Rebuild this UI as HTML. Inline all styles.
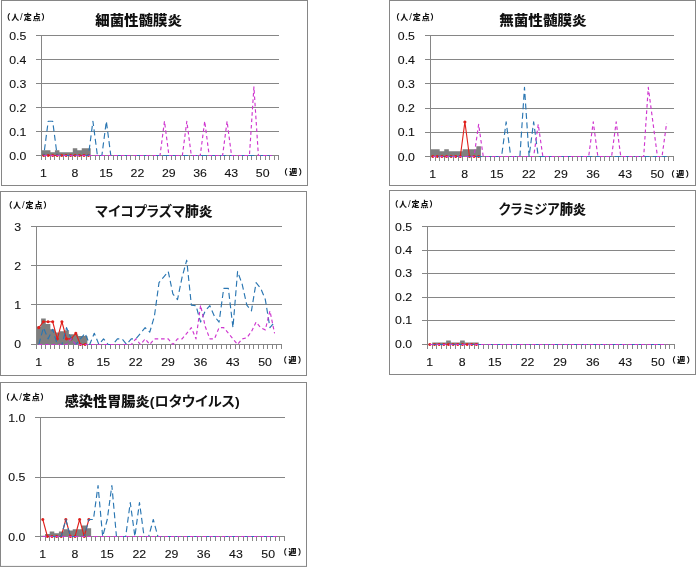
<!DOCTYPE html>
<html lang="ja"><head><meta charset="utf-8"><title>週別定点当たり報告数</title>
<style>html,body{margin:0;padding:0;background:#fff}svg{display:block}text{fill:#111}.n{stroke:#111;stroke-width:.1px}.t{font-weight:900;font-size:13.5px;font-feature-settings:"palt"}.u{font-weight:900;font-size:8px;font-feature-settings:"palt"}</style></head><body>
<svg width="696" height="567" viewBox="0 0 696 567">
<rect width="696" height="567" fill="#fff"/>
<g id="p1">
<rect x="1.5" y="0.5" width="306" height="185" fill="#fff" stroke="#868686" stroke-width="1"/>
<path d="M36 35.5H279M36 59.5H279M36 83.5H279M36 107.5H279M36 131.5H279" stroke="#868686" stroke-width="1" fill="none"/>
<path d="M41.5 155.5V150.32H45.97V150.32H50.44V152.14H54.92V150.32H59.39V152.21H63.86V152.21H68.33V152.21H72.8V148.3H77.27V150.22H81.75V148.3H86.22V148.3H90.69V155.5Z" fill="#7f7f7f"/>
<path d="M41.5 35V160" stroke="#868686" stroke-width="1" fill="none"/>
<path d="M36 155.5H279M45.5 155.5v4.5M50.5 155.5v4.5M54.5 155.5v4.5M59.5 155.5v4.5M63.5 155.5v4.5M68.5 155.5v4.5M72.5 155.5v4.5M77.5 155.5v4.5M81.5 155.5v4.5M86.5 155.5v4.5M90.5 155.5v4.5M95.5 155.5v4.5M99.5 155.5v4.5M104.5 155.5v4.5M108.5 155.5v4.5M113.5 155.5v4.5M117.5 155.5v4.5M121.5 155.5v4.5M126.5 155.5v4.5M130.5 155.5v4.5M135.5 155.5v4.5M139.5 155.5v4.5M144.5 155.5v4.5M148.5 155.5v4.5M153.5 155.5v4.5M157.5 155.5v4.5M162.5 155.5v4.5M166.5 155.5v4.5M171.5 155.5v4.5M175.5 155.5v4.5M180.5 155.5v4.5M184.5 155.5v4.5M189.5 155.5v4.5M193.5 155.5v4.5M198.5 155.5v4.5M202.5 155.5v4.5M206.5 155.5v4.5M211.5 155.5v4.5M215.5 155.5v4.5M220.5 155.5v4.5M224.5 155.5v4.5M229.5 155.5v4.5M233.5 155.5v4.5M238.5 155.5v4.5M242.5 155.5v4.5M247.5 155.5v4.5M251.5 155.5v4.5M256.5 155.5v4.5M260.5 155.5v4.5M265.5 155.5v4.5M269.5 155.5v4.5M274.5 155.5v4.5M278.5 155.5v4.5" stroke="#868686" stroke-width="1" fill="none"/>
<polyline points="43.74,155.5 48.21,155.5 52.68,155.5 57.15,155.5 61.62,155.5 66.09,155.5 70.57,155.5 75.04,155.5 79.51,155.5 83.98,155.5 88.45,155.5" fill="none" stroke="#e0201c" stroke-width="1.1" stroke-linejoin="round"/>
<path d="M43.74 153.95a1.55 1.55 0 1 0 0.01 0ZM48.21 153.95a1.55 1.55 0 1 0 0.01 0ZM52.68 153.95a1.55 1.55 0 1 0 0.01 0ZM57.15 153.95a1.55 1.55 0 1 0 0.01 0ZM61.62 153.95a1.55 1.55 0 1 0 0.01 0ZM66.09 153.95a1.55 1.55 0 1 0 0.01 0ZM70.57 153.95a1.55 1.55 0 1 0 0.01 0ZM75.04 153.95a1.55 1.55 0 1 0 0.01 0ZM79.51 153.95a1.55 1.55 0 1 0 0.01 0ZM83.98 153.95a1.55 1.55 0 1 0 0.01 0ZM88.45 153.95a1.55 1.55 0 1 0 0.01 0Z" fill="#e0201c"/>
<polyline points="43.74,155.5 48.21,121.21 52.68,121.21 57.15,155.5 61.62,155.5 66.09,155.5 70.57,155.5 75.04,155.5 79.51,155.5 83.98,155.5 88.45,155.5 92.92,121.21 97.4,155.5 101.87,155.5 106.34,121.21 110.81,155.5 115.28,155.5 119.75,155.5 124.23,155.5 128.7,155.5 133.17,155.5 137.64,155.5 142.11,155.5 146.58,155.5 151.06,155.5 155.53,155.5 160,155.5 164.47,155.5 168.94,155.5 173.42,155.5 177.89,155.5 182.36,155.5 186.83,155.5 191.3,155.5 195.77,155.5 200.25,155.5 204.72,155.5 209.19,155.5 213.66,155.5 218.13,155.5 222.6,155.5 227.08,155.5 231.55,155.5 236.02,155.5 240.49,155.5 244.96,155.5 249.43,155.5 253.91,155.5 258.38,155.5 262.85,155.5 267.32,155.5 271.79,155.5" fill="none" stroke="#2a76b2" stroke-width="1.15" stroke-dasharray="6 3.5" stroke-dashoffset="4.2" stroke-linejoin="round"/>
<polyline points="43.74,155.5 48.21,155.5 52.68,155.5 57.15,155.5 61.62,155.5 66.09,155.5 70.57,155.5 75.04,155.5 79.51,155.5 83.98,155.5 88.45,155.5 92.92,155.5 97.4,155.5 101.87,155.5 106.34,155.5 110.81,155.5 115.28,155.5 119.75,155.5 124.23,155.5 128.7,155.5 133.17,155.5 137.64,155.5 142.11,155.5 146.58,155.5 151.06,155.5 155.53,155.5 160,155.5 164.47,121.21 168.94,155.5 173.42,155.5 177.89,155.5 182.36,155.5 186.83,121.21 191.3,155.5 195.77,155.5 200.25,155.5 204.72,121.21 209.19,155.5 213.66,155.5 218.13,155.5 222.6,155.5 227.08,121.21 231.55,155.5 236.02,155.5 240.49,155.5 244.96,155.5 249.43,155.5 253.91,86.93 258.38,155.5 262.85,155.5 267.32,155.5 271.79,155.5" fill="none" stroke="#cf36cf" stroke-width="1.15" stroke-dasharray="3.6 2.8" stroke-linejoin="round"/>
<text x="9.2" y="39.7" class="n" font-family="Liberation Sans, sans-serif" font-size="11.3" textLength="17.12" lengthAdjust="spacingAndGlyphs">0.5</text>
<text x="9.2" y="63.72" class="n" font-family="Liberation Sans, sans-serif" font-size="11.3" textLength="17.12" lengthAdjust="spacingAndGlyphs">0.4</text>
<text x="9.2" y="87.74" class="n" font-family="Liberation Sans, sans-serif" font-size="11.3" textLength="17.12" lengthAdjust="spacingAndGlyphs">0.3</text>
<text x="9.2" y="111.76" class="n" font-family="Liberation Sans, sans-serif" font-size="11.3" textLength="17.12" lengthAdjust="spacingAndGlyphs">0.2</text>
<text x="9.2" y="135.78" class="n" font-family="Liberation Sans, sans-serif" font-size="11.3" textLength="17.12" lengthAdjust="spacingAndGlyphs">0.1</text>
<text x="9.2" y="159.8" class="n" font-family="Liberation Sans, sans-serif" font-size="11.3" textLength="17.12" lengthAdjust="spacingAndGlyphs">0.0</text>
<text x="40.11" y="176.8" class="n" font-family="Liberation Sans, sans-serif" font-size="11.3" textLength="6.85" lengthAdjust="spacingAndGlyphs">1</text>
<text x="71.41" y="176.8" class="n" font-family="Liberation Sans, sans-serif" font-size="11.3" textLength="6.85" lengthAdjust="spacingAndGlyphs">8</text>
<text x="99.29" y="176.8" class="n" font-family="Liberation Sans, sans-serif" font-size="11.3" textLength="13.7" lengthAdjust="spacingAndGlyphs">15</text>
<text x="130.59" y="176.8" class="n" font-family="Liberation Sans, sans-serif" font-size="11.3" textLength="13.7" lengthAdjust="spacingAndGlyphs">22</text>
<text x="161.9" y="176.8" class="n" font-family="Liberation Sans, sans-serif" font-size="11.3" textLength="13.7" lengthAdjust="spacingAndGlyphs">29</text>
<text x="193.2" y="176.8" class="n" font-family="Liberation Sans, sans-serif" font-size="11.3" textLength="13.7" lengthAdjust="spacingAndGlyphs">36</text>
<text x="224.5" y="176.8" class="n" font-family="Liberation Sans, sans-serif" font-size="11.3" textLength="13.7" lengthAdjust="spacingAndGlyphs">43</text>
<text x="255.8" y="176.8" class="n" font-family="Liberation Sans, sans-serif" font-size="11.3" textLength="13.7" lengthAdjust="spacingAndGlyphs">50</text>
<text class="u" x="6.2" y="19.9" font-family="Liberation Sans, Noto Sans CJK JP, sans-serif" textLength="39.4" lengthAdjust="spacing">（人<tspan font-weight="400" font-size="9.5">/</tspan>定点）</text>
<text class="u" x="283.5" y="174.7" font-family="Liberation Sans, Noto Sans CJK JP, sans-serif" textLength="19.4" lengthAdjust="spacing">（週）</text>
<text class="t" x="95.2" y="24.5" font-family="Liberation Sans, Noto Sans CJK JP, sans-serif" textLength="86.8" lengthAdjust="spacingAndGlyphs">細菌性髄膜炎</text>
</g>
<g id="p2">
<rect x="389.5" y="0.5" width="306" height="185" fill="#fff" stroke="#868686" stroke-width="1"/>
<path d="M425 35.5H674M425 59.5H674M425 83.5H674M425 108.5H674M425 132.5H674" stroke="#868686" stroke-width="1" fill="none"/>
<path d="M430.5 156.5V149.36H435.08V149.36H439.67V151.18H444.25V149.36H448.84V151.18H453.42V151.18H458.01V151.18H462.59V149.36H467.18V149.36H471.76V149.36H476.35V146.34H480.93V156.5Z" fill="#7f7f7f"/>
<path d="M430.5 35V161" stroke="#868686" stroke-width="1" fill="none"/>
<path d="M425 156.5H674M435.5 156.5v4.5M439.5 156.5v4.5M444.5 156.5v4.5M448.5 156.5v4.5M453.5 156.5v4.5M458.5 156.5v4.5M462.5 156.5v4.5M467.5 156.5v4.5M471.5 156.5v4.5M476.5 156.5v4.5M480.5 156.5v4.5M485.5 156.5v4.5M490.5 156.5v4.5M494.5 156.5v4.5M499.5 156.5v4.5M503.5 156.5v4.5M508.5 156.5v4.5M513.5 156.5v4.5M517.5 156.5v4.5M522.5 156.5v4.5M526.5 156.5v4.5M531.5 156.5v4.5M535.5 156.5v4.5M540.5 156.5v4.5M545.5 156.5v4.5M549.5 156.5v4.5M554.5 156.5v4.5M558.5 156.5v4.5M563.5 156.5v4.5M568.5 156.5v4.5M572.5 156.5v4.5M577.5 156.5v4.5M581.5 156.5v4.5M586.5 156.5v4.5M590.5 156.5v4.5M595.5 156.5v4.5M600.5 156.5v4.5M604.5 156.5v4.5M609.5 156.5v4.5M613.5 156.5v4.5M618.5 156.5v4.5M623.5 156.5v4.5M627.5 156.5v4.5M632.5 156.5v4.5M636.5 156.5v4.5M641.5 156.5v4.5M645.5 156.5v4.5M650.5 156.5v4.5M655.5 156.5v4.5M659.5 156.5v4.5M664.5 156.5v4.5M668.5 156.5v4.5M673.5 156.5v4.5" stroke="#868686" stroke-width="1" fill="none"/>
<polyline points="432.79,156.5 437.38,156.5 441.96,156.5 446.55,156.5 451.13,156.5 455.72,156.5 460.3,156.5 464.89,121.93 469.47,156.5 474.06,156.5 478.64,156.5" fill="none" stroke="#e0201c" stroke-width="1.1" stroke-linejoin="round"/>
<path d="M432.79 154.95a1.55 1.55 0 1 0 0.01 0ZM437.38 154.95a1.55 1.55 0 1 0 0.01 0ZM441.96 154.95a1.55 1.55 0 1 0 0.01 0ZM446.55 154.95a1.55 1.55 0 1 0 0.01 0ZM451.13 154.95a1.55 1.55 0 1 0 0.01 0ZM455.72 154.95a1.55 1.55 0 1 0 0.01 0ZM460.3 154.95a1.55 1.55 0 1 0 0.01 0ZM464.89 120.38a1.55 1.55 0 1 0 0.01 0ZM469.47 154.95a1.55 1.55 0 1 0 0.01 0ZM474.06 154.95a1.55 1.55 0 1 0 0.01 0ZM478.64 154.95a1.55 1.55 0 1 0 0.01 0Z" fill="#e0201c"/>
<polyline points="432.79,156.5 437.38,156.5 441.96,156.5 446.55,156.5 451.13,156.5 455.72,156.5 460.3,156.5 464.89,156.5 469.47,156.5 474.06,156.5 478.64,156.5 483.23,156.5 487.81,156.5 492.4,156.5 496.98,156.5 501.57,156.5 506.15,121.93 510.74,156.5 515.32,156.5 519.91,156.5 524.49,87.36 529.08,156.5 533.66,121.93 538.25,156.5 542.83,156.5 547.42,156.5 552,156.5 556.58,156.5 561.17,156.5 565.75,156.5 570.34,156.5 574.92,156.5 579.51,156.5 584.09,156.5 588.68,156.5 593.26,156.5 597.85,156.5 602.43,156.5 607.02,156.5 611.6,156.5 616.19,156.5 620.77,156.5 625.36,156.5 629.94,156.5 634.53,156.5 639.11,156.5 643.7,156.5 648.28,156.5 652.87,156.5 657.45,156.5 662.04,156.5 666.62,156.5" fill="none" stroke="#2a76b2" stroke-width="1.15" stroke-dasharray="6 3.5" stroke-dashoffset="4.4" stroke-linejoin="round"/>
<polyline points="432.79,156.5 437.38,156.5 441.96,156.5 446.55,156.5 451.13,156.5 455.72,156.5 460.3,156.5 464.89,156.5 469.47,156.5 474.06,156.5 478.64,124.31 483.23,156.5 487.81,156.5 492.4,156.5 496.98,156.5 501.57,156.5 506.15,156.5 510.74,156.5 515.32,156.5 519.91,156.5 524.49,156.5 529.08,156.5 533.66,156.5 538.25,124.31 542.83,156.5 547.42,156.5 552,156.5 556.58,156.5 561.17,156.5 565.75,156.5 570.34,156.5 574.92,156.5 579.51,156.5 584.09,156.5 588.68,156.5 593.26,121.93 597.85,156.5 602.43,156.5 607.02,156.5 611.6,156.5 616.19,121.93 620.77,156.5 625.36,156.5 629.94,156.5 634.53,156.5 639.11,156.5 643.7,156.5 648.28,87.36 652.87,121.93 657.45,156.5 662.04,156.5 666.62,123.1" fill="none" stroke="#cf36cf" stroke-width="1.15" stroke-dasharray="3.6 2.8" stroke-linejoin="round"/>
<text x="397.8" y="39.7" class="n" font-family="Liberation Sans, sans-serif" font-size="11.3" textLength="17.12" lengthAdjust="spacingAndGlyphs">0.5</text>
<text x="397.8" y="63.88" class="n" font-family="Liberation Sans, sans-serif" font-size="11.3" textLength="17.12" lengthAdjust="spacingAndGlyphs">0.4</text>
<text x="397.8" y="88.06" class="n" font-family="Liberation Sans, sans-serif" font-size="11.3" textLength="17.12" lengthAdjust="spacingAndGlyphs">0.3</text>
<text x="397.8" y="112.24" class="n" font-family="Liberation Sans, sans-serif" font-size="11.3" textLength="17.12" lengthAdjust="spacingAndGlyphs">0.2</text>
<text x="397.8" y="136.42" class="n" font-family="Liberation Sans, sans-serif" font-size="11.3" textLength="17.12" lengthAdjust="spacingAndGlyphs">0.1</text>
<text x="397.8" y="160.6" class="n" font-family="Liberation Sans, sans-serif" font-size="11.3" textLength="17.12" lengthAdjust="spacingAndGlyphs">0.0</text>
<text x="429.17" y="177.8" class="n" font-family="Liberation Sans, sans-serif" font-size="11.3" textLength="6.85" lengthAdjust="spacingAndGlyphs">1</text>
<text x="461.26" y="177.8" class="n" font-family="Liberation Sans, sans-serif" font-size="11.3" textLength="6.85" lengthAdjust="spacingAndGlyphs">8</text>
<text x="489.93" y="177.8" class="n" font-family="Liberation Sans, sans-serif" font-size="11.3" textLength="13.7" lengthAdjust="spacingAndGlyphs">15</text>
<text x="522.03" y="177.8" class="n" font-family="Liberation Sans, sans-serif" font-size="11.3" textLength="13.7" lengthAdjust="spacingAndGlyphs">22</text>
<text x="554.12" y="177.8" class="n" font-family="Liberation Sans, sans-serif" font-size="11.3" textLength="13.7" lengthAdjust="spacingAndGlyphs">29</text>
<text x="586.22" y="177.8" class="n" font-family="Liberation Sans, sans-serif" font-size="11.3" textLength="13.7" lengthAdjust="spacingAndGlyphs">36</text>
<text x="618.31" y="177.8" class="n" font-family="Liberation Sans, sans-serif" font-size="11.3" textLength="13.7" lengthAdjust="spacingAndGlyphs">43</text>
<text x="650.4" y="177.8" class="n" font-family="Liberation Sans, sans-serif" font-size="11.3" textLength="13.7" lengthAdjust="spacingAndGlyphs">50</text>
<text class="u" x="395.3" y="19.9" font-family="Liberation Sans, Noto Sans CJK JP, sans-serif" textLength="39.4" lengthAdjust="spacing">（人<tspan font-weight="400" font-size="9.5">/</tspan>定点）</text>
<text class="u" x="670.5" y="177.4" font-family="Liberation Sans, Noto Sans CJK JP, sans-serif" textLength="19.4" lengthAdjust="spacing">（週）</text>
<text class="t" x="499.2" y="25.1" font-family="Liberation Sans, Noto Sans CJK JP, sans-serif" textLength="87.5" lengthAdjust="spacingAndGlyphs">無菌性髄膜炎</text>
</g>
<g id="p3">
<rect x="0.5" y="191.5" width="306" height="184" fill="#fff" stroke="#868686" stroke-width="1"/>
<path d="M31 226.5H282M31 265.5H282M31 304.5H282" stroke="#868686" stroke-width="1" fill="none"/>
<path d="M36.5 344.5V326.56H41.12V318.38H45.75V324.05H50.37V329.16H54.99V332.42H59.61V331.13H64.24V330.18H68.86V334.31H73.48V334.31H78.1V336.04H82.73V336.04H87.35V344.5Z" fill="#7f7f7f"/>
<path d="M36.5 226V349" stroke="#868686" stroke-width="1" fill="none"/>
<path d="M31 344.5H282M41.5 344.5v4.5M45.5 344.5v4.5M50.5 344.5v4.5M54.5 344.5v4.5M59.5 344.5v4.5M64.5 344.5v4.5M68.5 344.5v4.5M73.5 344.5v4.5M78.5 344.5v4.5M82.5 344.5v4.5M87.5 344.5v4.5M91.5 344.5v4.5M96.5 344.5v4.5M101.5 344.5v4.5M105.5 344.5v4.5M110.5 344.5v4.5M115.5 344.5v4.5M119.5 344.5v4.5M124.5 344.5v4.5M128.5 344.5v4.5M133.5 344.5v4.5M138.5 344.5v4.5M142.5 344.5v4.5M147.5 344.5v4.5M152.5 344.5v4.5M156.5 344.5v4.5M161.5 344.5v4.5M165.5 344.5v4.5M170.5 344.5v4.5M175.5 344.5v4.5M179.5 344.5v4.5M184.5 344.5v4.5M189.5 344.5v4.5M193.5 344.5v4.5M198.5 344.5v4.5M202.5 344.5v4.5M207.5 344.5v4.5M212.5 344.5v4.5M216.5 344.5v4.5M221.5 344.5v4.5M226.5 344.5v4.5M230.5 344.5v4.5M235.5 344.5v4.5M239.5 344.5v4.5M244.5 344.5v4.5M249.5 344.5v4.5M253.5 344.5v4.5M258.5 344.5v4.5M263.5 344.5v4.5M267.5 344.5v4.5M272.5 344.5v4.5M276.5 344.5v4.5M281.5 344.5v4.5" stroke="#868686" stroke-width="1" fill="none"/>
<polyline points="38.81,327.64 43.43,321.74 48.06,321.74 52.68,321.74 57.3,338.88 61.92,321.74 66.55,338.88 71.17,338.88 75.79,333.26 80.42,344.5 85.04,344.5" fill="none" stroke="#e0201c" stroke-width="1.1" stroke-linejoin="round"/>
<path d="M38.81 326.09a1.55 1.55 0 1 0 0.01 0ZM43.43 320.19a1.55 1.55 0 1 0 0.01 0ZM48.06 320.19a1.55 1.55 0 1 0 0.01 0ZM52.68 320.19a1.55 1.55 0 1 0 0.01 0ZM57.3 337.33a1.55 1.55 0 1 0 0.01 0ZM61.92 320.19a1.55 1.55 0 1 0 0.01 0ZM66.55 337.33a1.55 1.55 0 1 0 0.01 0ZM71.17 337.33a1.55 1.55 0 1 0 0.01 0ZM75.79 331.71a1.55 1.55 0 1 0 0.01 0ZM80.42 342.95a1.55 1.55 0 1 0 0.01 0ZM85.04 342.95a1.55 1.55 0 1 0 0.01 0Z" fill="#e0201c"/>
<polyline points="38.81,344.5 43.43,327.64 48.06,338.88 52.68,329.33 57.3,344.5 61.92,344.5 66.55,327.64 71.17,338.88 75.79,344.5 80.42,338.88 85.04,333.26 89.66,344.5 94.28,333.26 98.91,344.5 103.53,338.88 108.15,344.5 112.77,344.5 117.4,338.88 122.02,338.88 126.64,344.5 131.26,338.88 135.89,338.88 140.51,333.26 145.13,327.64 149.75,332.14 154.38,316.4 159,282.69 163.62,277.07 168.25,271.45 172.87,293.93 177.49,299.55 182.11,277.07 186.74,260.21 191.36,305.17 195.98,305.73 200.6,322.02 205.23,310.79 209.85,305.73 214.47,316.4 219.09,322.02 223.72,288.31 228.34,288.31 232.96,327.64 237.58,271.45 242.21,284.38 246.83,305.17 251.45,310.79 256.08,282.69 260.7,288.31 265.32,299.55 269.94,327.64 274.57,322.02" fill="none" stroke="#2a76b2" stroke-width="1.15" stroke-dasharray="6 3.5" stroke-dashoffset="0" stroke-linejoin="round"/>
<polyline points="38.81,344.5 43.43,344.5 48.06,344.5 52.68,344.5 57.3,344.5 61.92,344.5 66.55,344.5 71.17,338.88 75.79,344.5 80.42,344.5 85.04,344.5 89.66,344.5 94.28,344.5 98.91,344.5 103.53,344.5 108.15,344.5 112.77,344.5 117.4,344.5 122.02,344.5 126.64,344.5 131.26,344.5 135.89,338.88 140.51,344.5 145.13,338.88 149.75,344.5 154.38,338.88 159,338.88 163.62,338.88 168.25,338.88 172.87,344.5 177.49,338.88 182.11,338.88 186.74,333.26 191.36,327.64 195.98,338.88 200.6,305.17 205.23,326.52 209.85,338.88 214.47,338.88 219.09,327.64 223.72,327.64 228.34,333.26 232.96,338.88 237.58,344.5 242.21,338.88 246.83,337.76 251.45,331.58 256.08,322.02 260.7,327.64 265.32,329.89 269.94,310.79 274.57,333.26" fill="none" stroke="#cf36cf" stroke-width="1.15" stroke-dasharray="3.6 2.8" stroke-linejoin="round"/>
<text x="14.2" y="230.7" class="n" font-family="Liberation Sans, sans-serif" font-size="11.3" textLength="6.85" lengthAdjust="spacingAndGlyphs">3</text>
<text x="14.2" y="269.67" class="n" font-family="Liberation Sans, sans-serif" font-size="11.3" textLength="6.85" lengthAdjust="spacingAndGlyphs">2</text>
<text x="14.2" y="308.63" class="n" font-family="Liberation Sans, sans-serif" font-size="11.3" textLength="6.85" lengthAdjust="spacingAndGlyphs">1</text>
<text x="14.2" y="347.6" class="n" font-family="Liberation Sans, sans-serif" font-size="11.3" textLength="6.85" lengthAdjust="spacingAndGlyphs">0</text>
<text x="35.19" y="366" class="n" font-family="Liberation Sans, sans-serif" font-size="11.3" textLength="6.85" lengthAdjust="spacingAndGlyphs">1</text>
<text x="67.55" y="366" class="n" font-family="Liberation Sans, sans-serif" font-size="11.3" textLength="6.85" lengthAdjust="spacingAndGlyphs">8</text>
<text x="96.48" y="366" class="n" font-family="Liberation Sans, sans-serif" font-size="11.3" textLength="13.7" lengthAdjust="spacingAndGlyphs">15</text>
<text x="128.84" y="366" class="n" font-family="Liberation Sans, sans-serif" font-size="11.3" textLength="13.7" lengthAdjust="spacingAndGlyphs">22</text>
<text x="161.2" y="366" class="n" font-family="Liberation Sans, sans-serif" font-size="11.3" textLength="13.7" lengthAdjust="spacingAndGlyphs">29</text>
<text x="193.56" y="366" class="n" font-family="Liberation Sans, sans-serif" font-size="11.3" textLength="13.7" lengthAdjust="spacingAndGlyphs">36</text>
<text x="225.91" y="366" class="n" font-family="Liberation Sans, sans-serif" font-size="11.3" textLength="13.7" lengthAdjust="spacingAndGlyphs">43</text>
<text x="258.27" y="366" class="n" font-family="Liberation Sans, sans-serif" font-size="11.3" textLength="13.7" lengthAdjust="spacingAndGlyphs">50</text>
<text class="u" x="8.1" y="207.7" font-family="Liberation Sans, Noto Sans CJK JP, sans-serif" textLength="39.4" lengthAdjust="spacing">（人<tspan font-weight="400" font-size="9.5">/</tspan>定点）</text>
<text class="u" x="282.7" y="363.4" font-family="Liberation Sans, Noto Sans CJK JP, sans-serif" textLength="19.4" lengthAdjust="spacing">（週）</text>
<text class="t" x="95.3" y="216.4" font-family="Liberation Sans, Noto Sans CJK JP, sans-serif" textLength="117.2" lengthAdjust="spacingAndGlyphs"><tspan font-weight="700">マイコプラズマ</tspan>肺炎</text>
</g>
<g id="p4">
<rect x="389.5" y="190.5" width="306" height="184" fill="#fff" stroke="#868686" stroke-width="1"/>
<path d="M422 226.5H675M422 250.5H675M422 273.5H675M422 297.5H675M422 320.5H675" stroke="#868686" stroke-width="1" fill="none"/>
<path d="M427.5 344.5V344.5H432.16V342.49H436.82V342.49H441.48V342.49H446.14V340.49H450.8V342.49H455.46V342.49H460.12V340.49H464.78V342.49H469.44V342.49H474.1V342.49H478.76V344.5Z" fill="#7f7f7f"/>
<path d="M427.5 226V349" stroke="#868686" stroke-width="1" fill="none"/>
<path d="M422 344.5H675M432.5 344.5v4.5M436.5 344.5v4.5M441.5 344.5v4.5M446.5 344.5v4.5M450.5 344.5v4.5M455.5 344.5v4.5M460.5 344.5v4.5M464.5 344.5v4.5M469.5 344.5v4.5M474.5 344.5v4.5M478.5 344.5v4.5M483.5 344.5v4.5M488.5 344.5v4.5M492.5 344.5v4.5M497.5 344.5v4.5M502.5 344.5v4.5M506.5 344.5v4.5M511.5 344.5v4.5M516.5 344.5v4.5M520.5 344.5v4.5M525.5 344.5v4.5M530.5 344.5v4.5M534.5 344.5v4.5M539.5 344.5v4.5M544.5 344.5v4.5M548.5 344.5v4.5M553.5 344.5v4.5M557.5 344.5v4.5M562.5 344.5v4.5M567.5 344.5v4.5M571.5 344.5v4.5M576.5 344.5v4.5M581.5 344.5v4.5M585.5 344.5v4.5M590.5 344.5v4.5M595.5 344.5v4.5M599.5 344.5v4.5M604.5 344.5v4.5M609.5 344.5v4.5M613.5 344.5v4.5M618.5 344.5v4.5M623.5 344.5v4.5M627.5 344.5v4.5M632.5 344.5v4.5M637.5 344.5v4.5M641.5 344.5v4.5M646.5 344.5v4.5M651.5 344.5v4.5M655.5 344.5v4.5M660.5 344.5v4.5M665.5 344.5v4.5M669.5 344.5v4.5M674.5 344.5v4.5" stroke="#868686" stroke-width="1" fill="none"/>
<polyline points="429.83,344.5 434.49,344.5 439.15,344.5 443.81,344.5 448.47,344.5 453.13,344.5 457.79,344.5 462.45,344.5 467.11,344.5 471.77,344.5 476.43,344.5" fill="none" stroke="#e0201c" stroke-width="1.1" stroke-linejoin="round"/>
<path d="M429.83 342.95a1.55 1.55 0 1 0 0.01 0ZM434.49 342.95a1.55 1.55 0 1 0 0.01 0ZM439.15 342.95a1.55 1.55 0 1 0 0.01 0ZM443.81 342.95a1.55 1.55 0 1 0 0.01 0ZM448.47 342.95a1.55 1.55 0 1 0 0.01 0ZM453.13 342.95a1.55 1.55 0 1 0 0.01 0ZM457.79 342.95a1.55 1.55 0 1 0 0.01 0ZM462.45 342.95a1.55 1.55 0 1 0 0.01 0ZM467.11 342.95a1.55 1.55 0 1 0 0.01 0ZM471.77 342.95a1.55 1.55 0 1 0 0.01 0ZM476.43 342.95a1.55 1.55 0 1 0 0.01 0Z" fill="#e0201c"/>
<polyline points="429.83,344.5 434.49,344.5 439.15,344.5 443.81,344.5 448.47,344.5 453.13,344.5 457.79,344.5 462.45,344.5 467.11,344.5 471.77,344.5 476.43,344.5 481.09,344.5 485.75,344.5 490.42,344.5 495.08,344.5 499.74,344.5 504.4,344.5 509.06,344.5 513.72,344.5 518.38,344.5 523.04,344.5 527.7,344.5 532.36,344.5 537.02,344.5 541.68,344.5 546.34,344.5 551,344.5 555.66,344.5 560.32,344.5 564.98,344.5 569.64,344.5 574.3,344.5 578.96,344.5 583.62,344.5 588.28,344.5 592.94,344.5 597.6,344.5 602.26,344.5 606.92,344.5 611.58,344.5 616.25,344.5 620.91,344.5 625.57,344.5 630.23,344.5 634.89,344.5 639.55,344.5 644.21,344.5 648.87,344.5 653.53,344.5 658.19,344.5 662.85,344.5 667.51,344.5" fill="none" stroke="#2a76b2" stroke-width="1.15" stroke-dasharray="6 3.5" stroke-dashoffset="0" stroke-linejoin="round"/>
<polyline points="429.83,344.5 434.49,344.5 439.15,344.5 443.81,344.5 448.47,344.5 453.13,344.5 457.79,344.5 462.45,344.5 467.11,344.5 471.77,344.5 476.43,344.5 481.09,344.5 485.75,344.5 490.42,344.5 495.08,344.5 499.74,344.5 504.4,344.5 509.06,344.5 513.72,344.5 518.38,344.5 523.04,344.5 527.7,344.5 532.36,344.5 537.02,344.5 541.68,344.5 546.34,344.5 551,344.5 555.66,344.5 560.32,344.5 564.98,344.5 569.64,344.5 574.3,344.5 578.96,344.5 583.62,344.5 588.28,344.5 592.94,344.5 597.6,344.5 602.26,344.5 606.92,344.5 611.58,344.5 616.25,344.5 620.91,344.5 625.57,344.5 630.23,344.5 634.89,344.5 639.55,344.5 644.21,344.5 648.87,344.5 653.53,344.5 658.19,344.5 662.85,344.5 667.51,344.5" fill="none" stroke="#cf36cf" stroke-width="1.15" stroke-dasharray="3.6 2.8" stroke-linejoin="round"/>
<text x="395.1" y="230.5" class="n" font-family="Liberation Sans, sans-serif" font-size="11.3" textLength="17.12" lengthAdjust="spacingAndGlyphs">0.5</text>
<text x="395.1" y="253.98" class="n" font-family="Liberation Sans, sans-serif" font-size="11.3" textLength="17.12" lengthAdjust="spacingAndGlyphs">0.4</text>
<text x="395.1" y="277.46" class="n" font-family="Liberation Sans, sans-serif" font-size="11.3" textLength="17.12" lengthAdjust="spacingAndGlyphs">0.3</text>
<text x="395.1" y="300.94" class="n" font-family="Liberation Sans, sans-serif" font-size="11.3" textLength="17.12" lengthAdjust="spacingAndGlyphs">0.2</text>
<text x="395.1" y="324.42" class="n" font-family="Liberation Sans, sans-serif" font-size="11.3" textLength="17.12" lengthAdjust="spacingAndGlyphs">0.1</text>
<text x="395.1" y="347.9" class="n" font-family="Liberation Sans, sans-serif" font-size="11.3" textLength="17.12" lengthAdjust="spacingAndGlyphs">0.0</text>
<text x="426.21" y="365.9" class="n" font-family="Liberation Sans, sans-serif" font-size="11.3" textLength="6.85" lengthAdjust="spacingAndGlyphs">1</text>
<text x="458.83" y="365.9" class="n" font-family="Liberation Sans, sans-serif" font-size="11.3" textLength="6.85" lengthAdjust="spacingAndGlyphs">8</text>
<text x="488.03" y="365.9" class="n" font-family="Liberation Sans, sans-serif" font-size="11.3" textLength="13.7" lengthAdjust="spacingAndGlyphs">15</text>
<text x="520.65" y="365.9" class="n" font-family="Liberation Sans, sans-serif" font-size="11.3" textLength="13.7" lengthAdjust="spacingAndGlyphs">22</text>
<text x="553.27" y="365.9" class="n" font-family="Liberation Sans, sans-serif" font-size="11.3" textLength="13.7" lengthAdjust="spacingAndGlyphs">29</text>
<text x="585.9" y="365.9" class="n" font-family="Liberation Sans, sans-serif" font-size="11.3" textLength="13.7" lengthAdjust="spacingAndGlyphs">36</text>
<text x="618.52" y="365.9" class="n" font-family="Liberation Sans, sans-serif" font-size="11.3" textLength="13.7" lengthAdjust="spacingAndGlyphs">43</text>
<text x="651.14" y="365.9" class="n" font-family="Liberation Sans, sans-serif" font-size="11.3" textLength="13.7" lengthAdjust="spacingAndGlyphs">50</text>
<text class="u" x="394.1" y="206.9" font-family="Liberation Sans, Noto Sans CJK JP, sans-serif" textLength="39.4" lengthAdjust="spacing">（人<tspan font-weight="400" font-size="9.5">/</tspan>定点）</text>
<text class="u" x="671.5" y="362.9" font-family="Liberation Sans, Noto Sans CJK JP, sans-serif" textLength="19.4" lengthAdjust="spacing">（週）</text>
<text class="t" x="498.7" y="213.7" font-family="Liberation Sans, Noto Sans CJK JP, sans-serif" textLength="87.4" lengthAdjust="spacingAndGlyphs"><tspan font-weight="700">クラミジア</tspan>肺炎</text>
</g>
<g id="p5">
<rect x="0.5" y="382.5" width="306" height="183.9" fill="#fff" stroke="#868686" stroke-width="1"/>
<path d="M35 417.5H285M35 477.5H285" stroke="#868686" stroke-width="1" fill="none"/>
<path d="M40.5 536.5V535.67H45.1V534.12H49.71V531.38H54.31V533.29H58.92V531.38H63.52V529.36H68.12V530.55H72.73V529.36H77.33V529.36H81.93V525.55H86.54V528.29H91.14V536.5Z" fill="#7f7f7f"/>
<path d="M40.5 417V541" stroke="#868686" stroke-width="1" fill="none"/>
<path d="M35 536.5H285M45.5 536.5v4.5M49.5 536.5v4.5M54.5 536.5v4.5M58.5 536.5v4.5M63.5 536.5v4.5M68.5 536.5v4.5M72.5 536.5v4.5M77.5 536.5v4.5M81.5 536.5v4.5M86.5 536.5v4.5M91.5 536.5v4.5M95.5 536.5v4.5M100.5 536.5v4.5M104.5 536.5v4.5M109.5 536.5v4.5M114.5 536.5v4.5M118.5 536.5v4.5M123.5 536.5v4.5M127.5 536.5v4.5M132.5 536.5v4.5M137.5 536.5v4.5M141.5 536.5v4.5M146.5 536.5v4.5M150.5 536.5v4.5M155.5 536.5v4.5M160.5 536.5v4.5M164.5 536.5v4.5M169.5 536.5v4.5M174.5 536.5v4.5M178.5 536.5v4.5M183.5 536.5v4.5M187.5 536.5v4.5M192.5 536.5v4.5M197.5 536.5v4.5M201.5 536.5v4.5M206.5 536.5v4.5M210.5 536.5v4.5M215.5 536.5v4.5M220.5 536.5v4.5M224.5 536.5v4.5M229.5 536.5v4.5M233.5 536.5v4.5M238.5 536.5v4.5M243.5 536.5v4.5M247.5 536.5v4.5M252.5 536.5v4.5M256.5 536.5v4.5M261.5 536.5v4.5M266.5 536.5v4.5M270.5 536.5v4.5M275.5 536.5v4.5M279.5 536.5v4.5M284.5 536.5v4.5" stroke="#868686" stroke-width="1" fill="none"/>
<polyline points="42.8,519.5 47.41,536.5 52.01,536.5 56.61,536.5 61.22,536.5 65.82,519.5 70.42,536.5 75.03,536.5 79.63,519.5 84.24,536.5 88.84,519.5" fill="none" stroke="#e0201c" stroke-width="1.1" stroke-linejoin="round"/>
<path d="M42.8 517.95a1.55 1.55 0 1 0 0.01 0ZM47.41 534.95a1.55 1.55 0 1 0 0.01 0ZM52.01 534.95a1.55 1.55 0 1 0 0.01 0ZM56.61 534.95a1.55 1.55 0 1 0 0.01 0ZM61.22 534.95a1.55 1.55 0 1 0 0.01 0ZM65.82 517.95a1.55 1.55 0 1 0 0.01 0ZM70.42 534.95a1.55 1.55 0 1 0 0.01 0ZM75.03 534.95a1.55 1.55 0 1 0 0.01 0ZM79.63 517.95a1.55 1.55 0 1 0 0.01 0ZM84.24 534.95a1.55 1.55 0 1 0 0.01 0ZM88.84 517.95a1.55 1.55 0 1 0 0.01 0Z" fill="#e0201c"/>
<polyline points="42.8,536.5 47.41,536.5 52.01,536.5 56.61,536.5 61.22,536.5 65.82,519.5 70.42,536.5 75.03,536.5 79.63,536.5 84.24,536.5 88.84,519.5 93.44,519.5 98.05,485.5 102.65,536.5 107.25,519.5 111.86,485.5 116.46,536.5 121.07,536.5 125.67,536.5 130.27,502.5 134.88,536.5 139.48,502.5 144.08,536.5 148.69,536.5 153.29,519.5 157.9,536.5 162.5,536.5 167.1,536.5 171.71,536.5 176.31,536.5 180.92,536.5 185.52,536.5 190.12,536.5 194.73,536.5 199.33,536.5 203.93,536.5 208.54,536.5 213.14,536.5 217.75,536.5 222.35,536.5 226.95,536.5 231.56,536.5 236.16,536.5 240.76,536.5 245.37,536.5 249.97,536.5 254.58,536.5 259.18,536.5 263.78,536.5 268.39,536.5 272.99,536.5 277.59,536.5" fill="none" stroke="#2a76b2" stroke-width="1.15" stroke-dasharray="6 3.5" stroke-dashoffset="2.5" stroke-linejoin="round"/>
<polyline points="42.8,536.5 47.41,536.5 52.01,536.5 56.61,536.5 61.22,536.5 65.82,536.5 70.42,536.5 75.03,536.5 79.63,536.5 84.24,536.5 88.84,536.5 93.44,536.5 98.05,536.5 102.65,536.5 107.25,536.5 111.86,536.5 116.46,536.5 121.07,536.5 125.67,536.5 130.27,536.5 134.88,536.5 139.48,536.5 144.08,536.5 148.69,536.5 153.29,536.5 157.9,536.5 162.5,536.5 167.1,536.5 171.71,536.5 176.31,536.5 180.92,536.5 185.52,536.5 190.12,536.5 194.73,536.5 199.33,536.5 203.93,536.5 208.54,536.5 213.14,536.5 217.75,536.5 222.35,536.5 226.95,536.5 231.56,536.5 236.16,536.5 240.76,536.5 245.37,536.5 249.97,536.5 254.58,536.5 259.18,536.5 263.78,536.5 268.39,536.5 272.99,536.5 277.59,536.5" fill="none" stroke="#cf36cf" stroke-width="1.15" stroke-dasharray="3.6 2.8" stroke-linejoin="round"/>
<text x="8.2" y="421.6" class="n" font-family="Liberation Sans, sans-serif" font-size="11.3" textLength="17.12" lengthAdjust="spacingAndGlyphs">1.0</text>
<text x="8.2" y="481.2" class="n" font-family="Liberation Sans, sans-serif" font-size="11.3" textLength="17.12" lengthAdjust="spacingAndGlyphs">0.5</text>
<text x="8.2" y="540.8" class="n" font-family="Liberation Sans, sans-serif" font-size="11.3" textLength="17.12" lengthAdjust="spacingAndGlyphs">0.0</text>
<text x="39.18" y="557.9" class="n" font-family="Liberation Sans, sans-serif" font-size="11.3" textLength="6.85" lengthAdjust="spacingAndGlyphs">1</text>
<text x="71.4" y="557.9" class="n" font-family="Liberation Sans, sans-serif" font-size="11.3" textLength="6.85" lengthAdjust="spacingAndGlyphs">8</text>
<text x="100.21" y="557.9" class="n" font-family="Liberation Sans, sans-serif" font-size="11.3" textLength="13.7" lengthAdjust="spacingAndGlyphs">15</text>
<text x="132.43" y="557.9" class="n" font-family="Liberation Sans, sans-serif" font-size="11.3" textLength="13.7" lengthAdjust="spacingAndGlyphs">22</text>
<text x="164.66" y="557.9" class="n" font-family="Liberation Sans, sans-serif" font-size="11.3" textLength="13.7" lengthAdjust="spacingAndGlyphs">29</text>
<text x="196.89" y="557.9" class="n" font-family="Liberation Sans, sans-serif" font-size="11.3" textLength="13.7" lengthAdjust="spacingAndGlyphs">36</text>
<text x="229.11" y="557.9" class="n" font-family="Liberation Sans, sans-serif" font-size="11.3" textLength="13.7" lengthAdjust="spacingAndGlyphs">43</text>
<text x="261.34" y="557.9" class="n" font-family="Liberation Sans, sans-serif" font-size="11.3" textLength="13.7" lengthAdjust="spacingAndGlyphs">50</text>
<text class="u" x="5.3" y="399.8" font-family="Liberation Sans, Noto Sans CJK JP, sans-serif" textLength="39.4" lengthAdjust="spacing">（人<tspan font-weight="400" font-size="9.5">/</tspan>定点）</text>
<text class="u" x="282.7" y="554.7" font-family="Liberation Sans, Noto Sans CJK JP, sans-serif" textLength="19.4" lengthAdjust="spacing">（週）</text>
<text class="t" x="64.7" y="406.1" font-family="Liberation Sans, Noto Sans CJK JP, sans-serif" textLength="175" lengthAdjust="spacingAndGlyphs">感染性胃腸炎<tspan font-weight="700">(ロタウイルス)</tspan></text>
</g>
</svg></body></html>
